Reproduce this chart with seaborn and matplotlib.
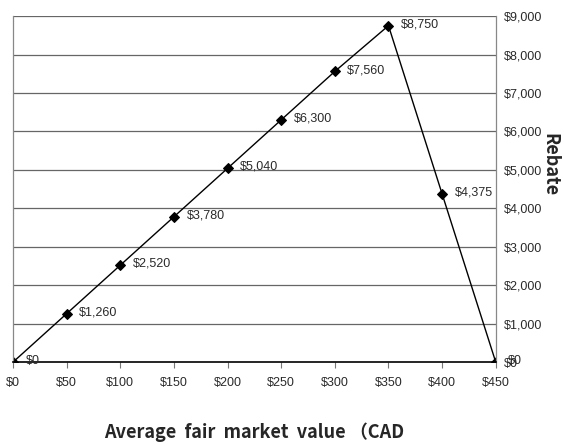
import matplotlib
matplotlib.use("Agg")
import matplotlib.pyplot as plt
import seaborn as sns
import pandas as pd
from matplotlib import font_manager

# Rebate by average fair market value
fmv = [0, 50, 100, 150, 200, 250, 300, 350, 400, 450]
rebate = [0, 1260, 2520, 3780, 5040, 6300, 7560, 8750, 4375, 0]
x_ticks = [0, 50, 100, 150, 200, 250, 300, 350, 400, 450]
y_ticks = [0, 1000, 2000, 3000, 4000, 5000, 6000, 7000, 8000, 9000]

sns.set_theme(style="white")

names = {f.name for f in font_manager.fontManager.ttflist}
narrow = "Liberation Sans Narrow" if "Liberation Sans Narrow" in names else "Liberation Sans"
plt.rcParams["font.family"] = [narrow, "DejaVu Sans"]

df = pd.DataFrame({"fmv": fmv, "rebate": rebate})

fig = plt.figure(figsize=(5.64, 4.46), dpi=100)
ax = fig.add_axes([0.023, 0.188, 0.856, 0.776])

sns.lineplot(data=df, x="fmv", y="rebate", ax=ax, color="black", linewidth=1.0,
             marker="D", markersize=5, markeredgecolor="black", markerfacecolor="black")

ax.set_xlim(0, 450)
ax.set_ylim(0, 9000)
ax.set_xticks(x_ticks)
ax.set_xticklabels([f"${v:,}" for v in x_ticks], fontsize=9, color="#2a2a2a")
ax.yaxis.tick_right()
ax.set_yticks(y_ticks)
ax.set_yticklabels([f"${v:,}" for v in y_ticks], fontsize=9, color="#2a2a2a")
ax.tick_params(axis="x", direction="out", length=4, width=0.8, color="#777777", pad=7, bottom=True)
ax.tick_params(axis="y", length=0, pad=6, right=True, left=False)

for y in y_ticks[1:]:
    ax.axhline(y, color="#666666", linewidth=0.9, zorder=0)

for side in ["left", "right"]:
    ax.spines[side].set_visible(True)
    ax.spines[side].set_color("#888888")
    ax.spines[side].set_linewidth(0.9)
ax.spines["top"].set_visible(False)
ax.spines["bottom"].set_color("black")
ax.spines["bottom"].set_linewidth(1.2)

for x, y in zip(fmv, rebate):
    ax.annotate(f"${y:,}", (x, y), xytext=(9, 1), textcoords="offset points",
                fontsize=9, color="#2a2a2a", va="center", ha="left")

ax.set_xlabel("")
ax.set_ylabel("")
fig.text(0.45, 0.03, "Average  fair  market  value （CAD", ha="center", va="center",
         fontsize=13, fontweight="bold", family=["Noto Sans CJK JP", "DejaVu Sans"])
fig.text(0.975, 0.63, "Rebate", rotation=-90, ha="center", va="center",
         fontsize=13, fontweight="bold", family=["Noto Sans CJK JP", "DejaVu Sans"])

fig.savefig("out.png", dpi=100)
